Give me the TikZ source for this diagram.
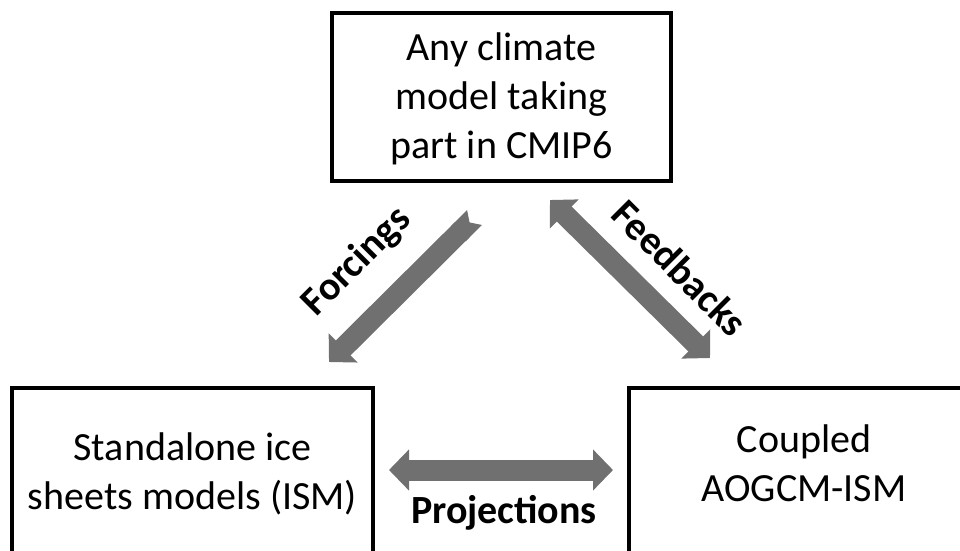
\documentclass[tikz,border=0pt]{standalone}
\usepackage{fontspec}
\setmainfont{Carlito}
\usetikzlibrary{arrows.meta}
\definecolor{arrowgray}{RGB}{112,112,112}
\tikzset{Fat/.tip={Triangle[length=20pt,width=40pt]}}
\begin{document}
\begin{tikzpicture}[x=1pt,y=-1pt,
  box/.style={draw=black, line width=3.4pt, rectangle, inner sep=0pt},
  txt/.style={align=center, font=\fontsize{40}{49}\selectfont, inner sep=0pt},
  lbl/.style={font=\fontsize{40}{48}\selectfont\bfseries, inner sep=0pt},
  fat/.style={draw=arrowgray, line width=21pt}]
\useasboundingbox (0,0) rectangle (960,550);
\clip (0,0) rectangle (960,550);
% boxes
\node[box, minimum width=339pt, minimum height=168pt] (cm) at (501.5,97) {};
\node[txt] (cmt) at (501.5,99) {Any climate\\model taking\\part in CMIP6};
\node[box, minimum width=361pt, minimum height=170pt] (ism) at (192.5,473) {};
\node[txt] (ismt) at (192.5,474) {Standalone ice\\sheets models (ISM)};
\node[box, minimum width=350pt, minimum height=170pt] (cpl) at (804,473) {};
\node[txt] (cplt) at (804,463) {Coupled\\AOGCM-ISM};
% arrows
\coordinate (f1) at (474.5,217.5);
\coordinate (f2) at (329,362);
\draw[fat, {Triangle Cap[reversed,length=7pt]}-{Fat}] (f1) -- (f2);
\coordinate (b1) at (550,200);
\coordinate (b2) at (710,358);
\draw[fat, {Fat}-{Fat}] (b1) -- (b2);
\coordinate (p1) at (389,470);
\coordinate (p2) at (613,470);
\draw[fat, {Fat}-{Fat}] (p1) -- (p2);
% labels
\node[lbl, rotate=45] (forc) at (357,262) {Forcings};
\node[lbl, rotate=-45] (feed) at (680,268) {Feedbacks};
\node[lbl, anchor=base] (proj) at (504,523) {Projections};
\end{tikzpicture}
\end{document}
